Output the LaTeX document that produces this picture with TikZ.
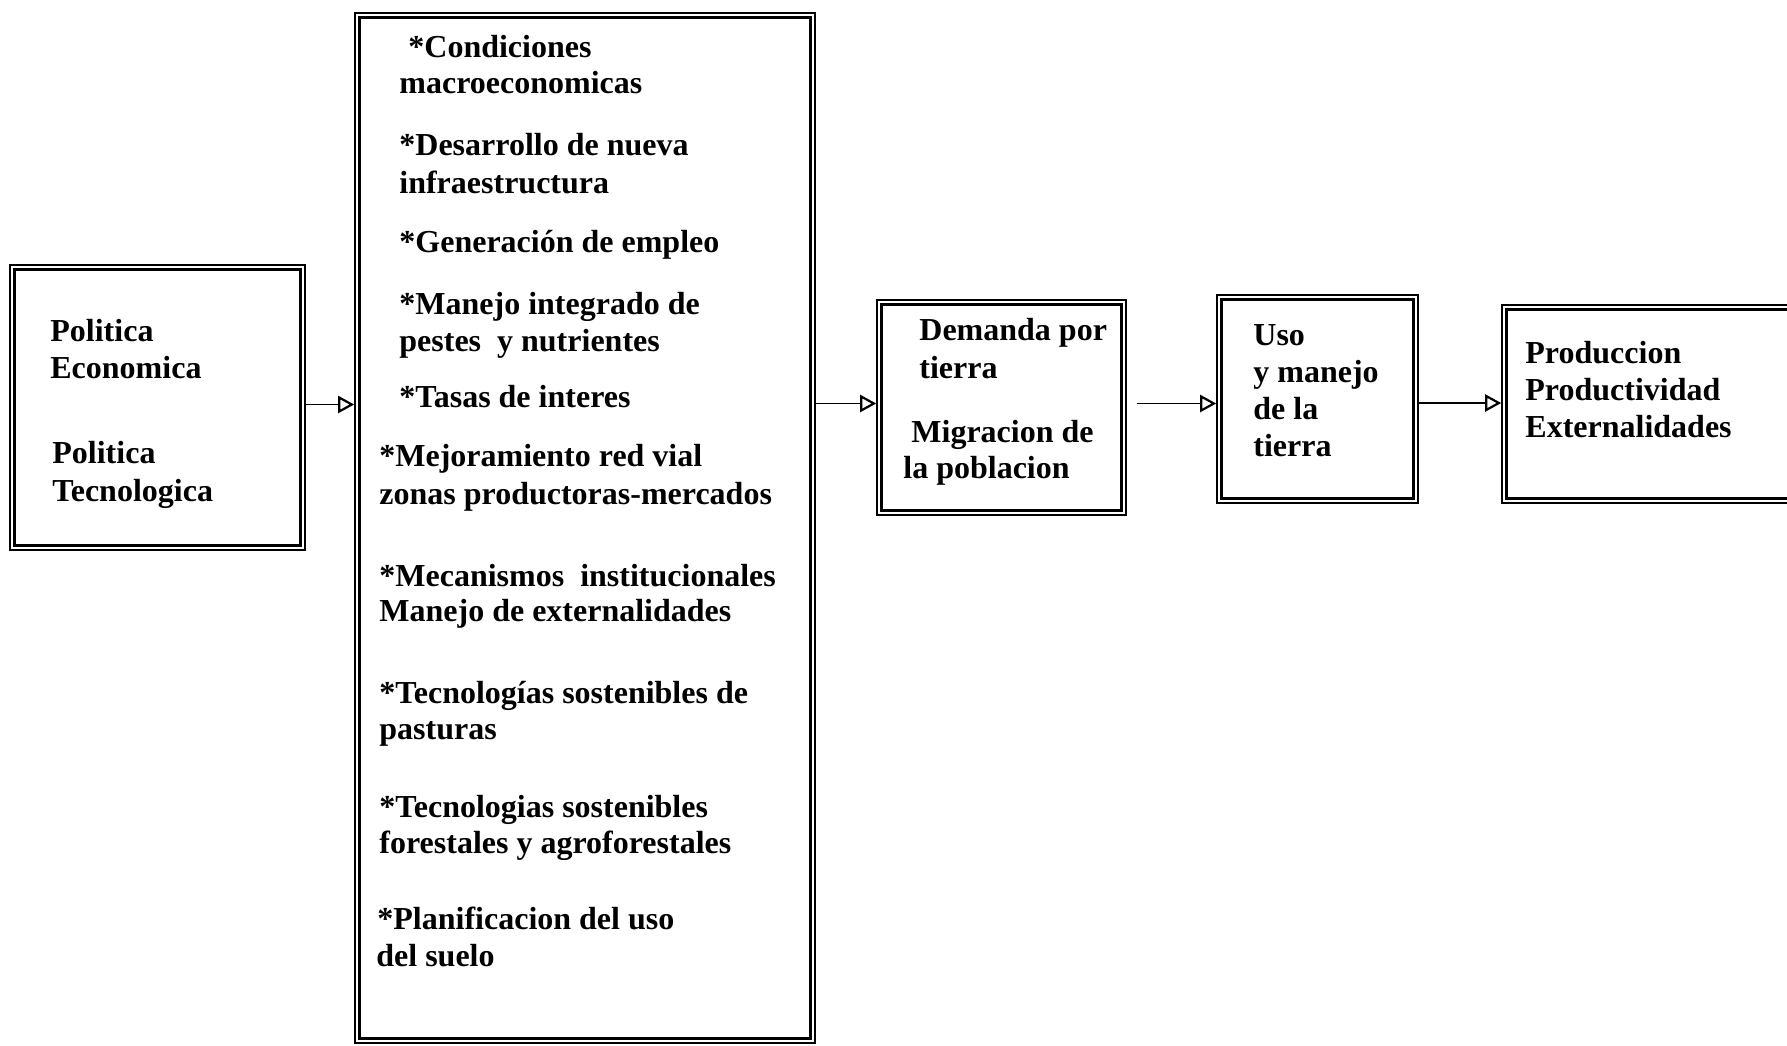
\documentclass[tikz,border=0pt]{standalone}
\usepackage{fontspec}
\setmainfont{Liberation Serif}
\usetikzlibrary{arrows.meta,fit}
\begin{document}
\begin{tikzpicture}[x=0.5pt,y=-0.5pt,
  box/.style={draw, line width=0.8pt, inner sep=0pt},
  inbox/.style={line width=1.6pt},
  txt/.style={anchor=base west, inner sep=0pt, font=\fontsize{16}{18.5}\selectfont\bfseries},
  conn/.style={line width=0.9pt, -{Triangle[open,length=8pt,width=8.5pt,line width=1.1pt]}}]
\useasboundingbox (0,0) rectangle (1787,1045);
\clip (0,0) rectangle (1787,1045);
% boxes
\node[box, fit={(10,265) (305,550)}] (pol) {};
\node[box, fit={(355,13) (815,1043)}] (fac) {};
\node[box, fit={(877,300) (1126,515)}] (dem) {};
\node[box, fit={(1217,295) (1418,503)}] (uso) {};
\node[box, fit={(1502,305) (1840,503)}] (pro) {};
\foreach \n in {pol,fac,dem,uso,pro}
  \draw[inbox] ([shift={(2.6pt,2.6pt)}]\n.south west) rectangle ([shift={(-2.6pt,-2.6pt)}]\n.north east);
% left box texts
\node[txt] (p1) at (50,341) {Politica};
\node[txt] (p2) at (50,378) {Economica};
\node[txt] (p3) at (52,463) {Politica};
\node[txt] (p4) at (52,501) {Tecnologica};
% factor box texts
\node[txt] (f1) at (408,57) {*Condiciones};
\node[txt] (f2) at (399,93) {macroeconomicas};
\node[txt] (f3) at (399,155) {*Desarrollo de nueva};
\node[txt] (f4) at (399,193) {infraestructura};
\node[txt] (f5) at (399,252) {*Generación de empleo};
\node[txt] (f6) at (399,314) {*Manejo integrado de};
\node[txt] (f7) at (399,351) {pestes\ \ y nutrientes};
\node[txt] (f8) at (399,407) {*Tasas de interes};
\node[txt] (f9) at (379,466) {*Mejoramiento red vial};
\node[txt] (f10) at (379,504) {zonas productoras-mercados};
\node[txt] (f11) at (379,586) {*Mecanismos\ \ institucionales};
\node[txt] (f12) at (379,621) {Manejo de externalidades};
\node[txt] (f13) at (379,703) {*Tecnologías sostenibles de};
\node[txt] (f14) at (379,739) {pasturas};
\node[txt] (f15) at (379,817) {*Tecnologias sostenibles};
\node[txt] (f16) at (379,853) {forestales y agroforestales};
\node[txt] (f17) at (377,929) {*Planificacion del uso};
\node[txt] (f18) at (376,966) {del suelo};
% demanda texts
\node[txt] (d1) at (919,340) {Demanda por};
\node[txt] (d2) at (919,378) {tierra};
\node[txt] (d3) at (911,442) {Migracion de};
\node[txt] (d4) at (903,478) {la poblacion};
% uso texts
\node[txt] (u1) at (1253,345) {Uso};
\node[txt] (u2) at (1253,382) {y manejo};
\node[txt] (u3) at (1253,419) {de la};
\node[txt] (u4) at (1253,456) {tierra};
% produccion texts
\node[txt] (r1) at (1525,363) {Produccion};
\node[txt] (r2) at (1525,400) {Productividad};
\node[txt] (r3) at (1525,437) {Externalidades};
% connectors
\draw[conn] ([yshift=1.5pt]pol.east) -- ([yshift=1.5pt]pol.east -| fac.west);
\draw[conn] ([yshift=2pt]dem.west -| fac.east) -- ([yshift=2pt]dem.west);
\draw[conn, shorten <=5pt] ([yshift=2pt]dem.east) -- ([yshift=2pt]dem.east -| uso.west);
\draw[conn] ([yshift=-2pt]uso.east) -- ([yshift=-2pt]uso.east -| pro.west);
\end{tikzpicture}
\end{document}
